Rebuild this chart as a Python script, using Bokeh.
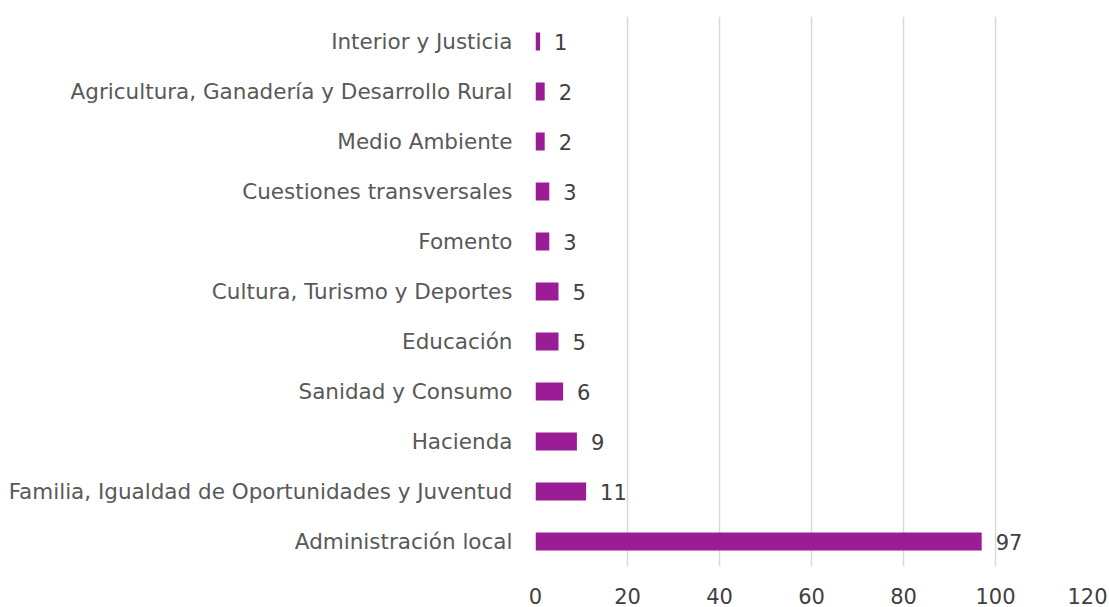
from bokeh.plotting import figure
from bokeh.models import ColumnDataSource, FixedTicker, LabelSet
from bokeh.core.properties import value
from bokeh.embed import file_html
from bokeh.resources import INLINE

categories = [
    "Interior y Justicia",
    "Agricultura, Ganadería y Desarrollo Rural",
    "Medio Ambiente",
    "Cuestiones transversales",
    "Fomento",
    "Cultura, Turismo y Deportes",
    "Educación",
    "Sanidad y Consumo",
    "Hacienda",
    "Familia, Igualdad de Oportunidades y Juventud",
    "Administración local",
]
values = [1, 2, 2, 3, 3, 5, 5, 6, 9, 11, 97]
x_ticks = [0, 20, 40, 60, 80, 100, 120]

FONT = "DejaVu Sans"
BAR = "#9B1D96"

src = ColumnDataSource(dict(cat=categories, val=values, lab=[str(v) for v in values]))

p = figure(
    width=1109, height=607,
    y_range=list(reversed(categories)),
    x_range=(0, 120),
    output_backend="svg", toolbar_location=None,
    min_border_left=535, min_border_right=22, min_border_top=16, min_border_bottom=41,
    outline_line_color=None,
)
p.y_range.range_padding = 0

p.hbar(y="cat", right="val", left=0, height=0.36, source=src,
       fill_color=BAR, line_color=None)

labels = LabelSet(x="val", y="cat", text="lab", source=src, x_offset=14,
                  text_baseline="middle", text_align="left",
                  text_font=value(FONT), text_font_size="21px", text_color="#404040")
p.add_layout(labels)

p.xaxis.ticker = FixedTicker(ticks=x_ticks)
p.xgrid.ticker = FixedTicker(ticks=x_ticks)
p.xgrid.grid_line_color = "#D9D9D9"
p.xgrid.grid_line_width = 1.5
p.ygrid.grid_line_color = None

for ax in (p.xaxis, p.yaxis):
    ax.axis_line_color = None
    ax.major_tick_line_color = None
    ax.minor_tick_line_color = None
    ax.major_tick_out = 0
    ax.major_tick_in = 0
    ax.major_label_text_font = FONT
    ax.major_label_text_color = "#595959"

p.yaxis.major_label_text_font_size = "21.5px"
p.xaxis.major_label_text_font_size = "21px"
p.xaxis.major_label_text_color = "#404040"
p.yaxis.major_label_standoff = 23
p.xaxis.major_label_standoff = 21

open("out.html", "w").write(file_html(p, INLINE))
